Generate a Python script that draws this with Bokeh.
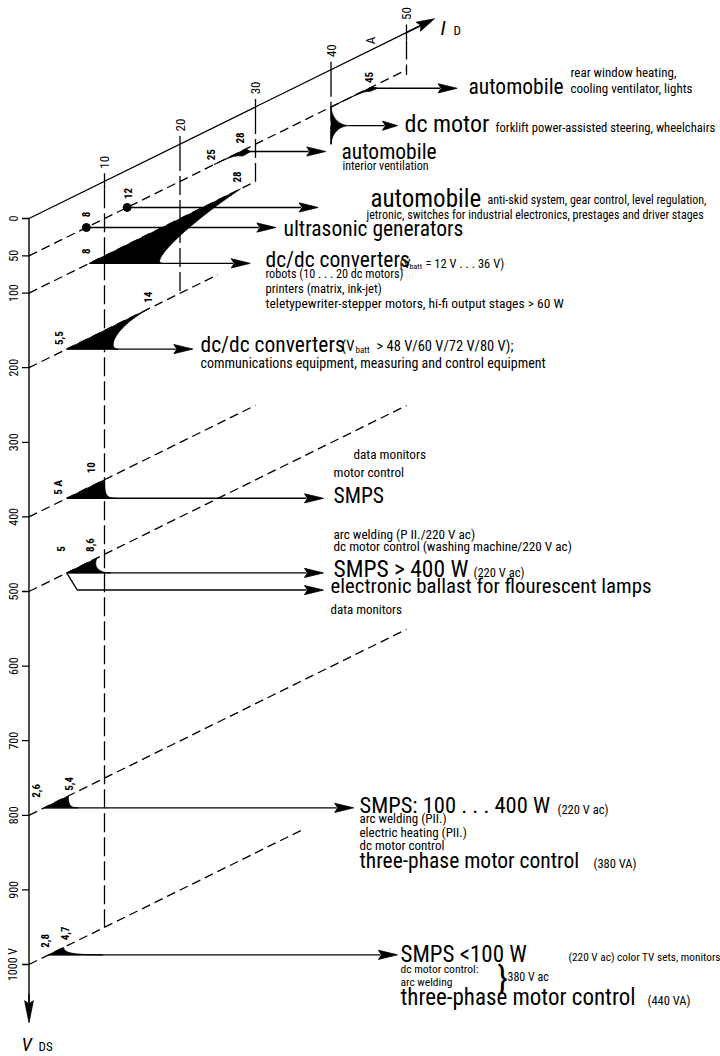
import numpy as np
from bokeh.plotting import figure
from bokeh.models import Range1d
from bokeh.core.properties import value
from bokeh.embed import file_html
from bokeh.resources import INLINE

# ---------------- chart values ----------------
V_TICKS = [0, 50, 100, 200, 300, 400, 500, 600, 700, 800, 900, 1000]
V_TICK_LABELS = ["0", "50", "100", "200", "300", "400", "500", "600", "700", "800", "900", "1000 V"]
ID_TICKS = [10, 20, 30, 40, 50]
ID_TICK_LABELS = ["10", "20", "30", "40", "50"]

# constant-V_DS guide lines (dashed, running in the I_D direction)
GUIDE_V = [50, 100, 200, 400, 500, 800, 1000]
GUIDE_V_ID_END = [50, 30, 25, 30, 50, 50, 36]
# constant-I_D projection lines (long dashes, running down in V_DS)
GUIDE_ID = [10, 20, 30, 40, 50]
GUIDE_ID_V_END = [1000, 200, 100, 100, 57]

# application areas whose arrow leaves at the level of the lower current
LOW_V = [100, 200, 400, 500, 800, 1000]
LOW_ID_FROM = [8, 5, 5, 5, 2, 2.6]
LOW_ID_TO = [28, 16, 10, 9, 5.2, 4.6]
LOW_LABEL_FROM = ["8", "5,5", "5 A", "5", "2,6", "2,8"]
LOW_LABEL_TO = ["28", "14", "10", "8,6", "5,4", "4,7"]

# application areas whose arrow leaves at the level of the upper current
HIGH_V = [50, 50]
HIGH_ID_FROM = [40, 24.5]
HIGH_ID_TO = [45.5, 28.7]
HIGH_LABEL_FROM = ["", "25"]
HIGH_LABEL_TO = ["45", "28"]

# single operating points
DOT_ID = [7.6, 13]
DOT_V = [50, 50]
DOT_LABEL = ["8", "12"]

# dc motor: one current, a range of voltages
MOTOR_ID = 40
MOTOR_V = [50, 100]

# electronic ballast branch (corner of the kinked line)
BALLAST_FROM = (5, 500)
BALLAST_CORNER = (6.4, 530)

# ---------------- layout (not data) ----------------
W, H = 720, 1056
SX = 7.55            # px per ampere (horizontal part of I_D direction)
SY = 0.746           # px per volt
RISE = 3.72          # px the I_D direction climbs per ampere
K = RISE / SY
ORIGIN = (28.5, 218.0)
X_START = -ORIGIN[0] / SX
Y_TOP = -ORIGIN[1] / SY

LOW_TIP = [29.3, 21.7, 39.0, 39.0, 43.0, 48.8]
LOW_SHAPE = [(73, 0.42, 0.58, 12), (51, 0.45, 0.5, 10), (49, 0.0, 0.75, 10),
             (44, 0.15, 0.7, 10), (34, 0.0, 0.7, 8), (54, 0.0, 0.75, 30)]
LOW_OFF_FROM = [(-3, -12), (-8, -11), (-8, -11), (-6, -24), (-8, -17), (-4, -14)]
LOW_OFF_TO = [(-3, -12), (-2, -11), (-14, -12), (-7, -13), (1, -12), (1, -14)]
HIGH_TIP = [56.7, 39.3]
HIGH_H = [5, 7]
HIGH_OFF_FROM = [(0, 0), (-3, -10)]
HIGH_OFF_TO = [(-4, -9), (-6, -11)]
DOT_TIP = [32.7, 38.3]
DOT_OFF = [(0, -13), (1, -14)]
MOTOR_TIP = 48.8
BALLAST_TIP = 39.0
FONT = "Roboto Condensed, DejaVu Sans Condensed, Liberation Sans"
BASE_SHIFT = 0.27    # em the renderer sets text below the requested baseline


def P(i, v):
    return i, v - K * i


def to_px(x, y):
    return np.array([(x - X_START) * SX, (y - Y_TOP) * SY])


def from_px(pts):
    pts = np.asarray(pts, dtype=float).reshape(-1, 2)
    return list(X_START + pts[:, 0] / SX), list(Y_TOP + pts[:, 1] / SY)


def ref(sx, sy):
    xs, ys = from_px([[sx, sy]])
    return xs[0], ys[0]


def cubic(p0, p1, p2, p3, n=28):
    t = np.linspace(0, 1, n)[:, None]
    return ((1 - t) ** 3) * p0 + 3 * ((1 - t) ** 2) * t * p1 + 3 * (1 - t) * t ** 2 * p2 + t ** 3 * p3


p = figure(width=W, height=H, x_range=Range1d(X_START, X_START + W / SX),
           y_range=Range1d(Y_TOP + H / SY, Y_TOP), output_backend="svg",
           toolbar_location=None, x_axis_type=None, y_axis_type=None, min_border=0)
p.outline_line_color = None
p.background_fill_color = "white"

heads_x, heads_y = [], []
shafts_x, shafts_y = [], []


def add_arrow(start_px, tip_px, length=19.0, half=4.6):
    s = np.asarray(start_px, float)
    t = np.asarray(tip_px, float)
    d = t - s
    u = d / np.hypot(*d)
    n = np.array([-u[1], u[0]])
    base = t - u * length
    xs, ys = from_px([s, base + u * 2])
    shafts_x.append(xs)
    shafts_y.append(ys)
    hx, hy = from_px([t, base + n * half, base + u * 3, base - n * half])
    heads_x.append(hx)
    heads_y.append(hy)


# ---------- V_DS axis ----------
ax_x, ax_y = zip(P(0, 0), P(0, 1060))
p.line(list(ax_x), list(ax_y), line_color="black", line_width=1.4)
add_arrow(to_px(*P(0, 1040)), to_px(*P(0, 1078)), length=22, half=4.4)
tick_px = 7.0
p.segment(x0=[0] * len(V_TICKS), y0=V_TICKS, x1=[-tick_px / SX] * len(V_TICKS), y1=V_TICKS,
          line_color="black", line_width=1.3)
p.text(x=[-16 / SX] * len(V_TICKS), y=V_TICKS, text=V_TICK_LABELS, angle=np.pi / 2,
       text_align="center", text_baseline="middle", text_font=value(FONT),
       text_font_size="12px", text_color="black")

# ---------- I_D axis ----------
id_end = 53.0
xs0, ys0 = zip(P(0, 0), P(id_end, 0))
p.line(list(xs0), list(ys0), line_color="black", line_width=1.3)
add_arrow(to_px(*P(id_end - 3, 0)), to_px(*P(53.7, 0)), length=18, half=5)
tick_half = 8.0 / SY
p.segment(x0=ID_TICKS, y0=[P(i, 0)[1] - tick_half for i in ID_TICKS],
          x1=ID_TICKS, y1=[P(i, 0)[1] + tick_half for i in ID_TICKS],
          line_color="black", line_width=1.3)
p.text(x=ID_TICKS, y=[P(i, 0)[1] - 19 / SY for i in ID_TICKS], text=ID_TICK_LABELS,
       angle=np.pi / 2, text_align="center", text_baseline="middle",
       text_font=value(FONT), text_font_size="13px", text_color="black")
ax, ay = ref(370, 40)
p.text(x=[ax], y=[ay], text=["A"], angle=np.pi / 2, text_align="center",
       text_baseline="middle", text_font=value(FONT), text_font_size="13px")

# ---------- guide lines ----------
p.multi_line(xs=[[0, e] for e in GUIDE_V_ID_END],
             ys=[[P(0, v)[1], P(e, v)[1]] for v, e in zip(GUIDE_V, GUIDE_V_ID_END)],
             line_color="black", line_width=1.3, line_dash="9 5")
p.multi_line(xs=[[i, i] for i in GUIDE_ID],
             ys=[[P(i, 0)[1] + tick_half, P(i, ve)[1]] for i, ve in zip(GUIDE_ID, GUIDE_ID_V_END)],
             line_color="black", line_width=1.3, line_dash="19 5")

# ---------- wedges ----------
patch_x, patch_y = [], []
num_x, num_y, num_t = [], [], []

for v, i0, i1, tip, shp, lf, lt, of, ot in zip(LOW_V, LOW_ID_FROM, LOW_ID_TO, LOW_TIP, LOW_SHAPE,
                                             LOW_LABEL_FROM, LOW_LABEL_TO, LOW_OFF_FROM, LOW_OFF_TO):
    A = to_px(*P(i0, v))
    B = to_px(*P(i1, v))
    notch, s1, s2, d = shp
    C = np.array([A[0] + notch, A[1]])
    P1 = np.array([B[0] + (A[0] - B[0]) * s1, B[1] + (A[1] - B[1]) * s2])
    P2 = np.array([C[0] - d, C[1]])
    curve = cubic(B, P1, P2, C)
    poly = np.vstack([A, curve])
    xs, ys = from_px(poly)
    patch_x.append(xs)
    patch_y.append(ys)
    tip_px = to_px(tip, P(i0, v)[1])
    add_arrow(A, tip_px)
    for lab, base, off in ((lf, A, of), (lt, B, ot)):
        lx, ly = from_px([base + np.array(off)])
        num_x.append(lx[0]); num_y.append(ly[0]); num_t.append(lab)

for v, i0, i1, tip, h, lf, lt, of, ot in zip(HIGH_V, HIGH_ID_FROM, HIGH_ID_TO, HIGH_TIP, HIGH_H,
                                           HIGH_LABEL_FROM, HIGH_LABEL_TO, HIGH_OFF_FROM, HIGH_OFF_TO):
    A = to_px(*P(i0, v))
    B = to_px(*P(i1, v))
    arrow_y = B[1] + h * 0.35
    C = np.array([B[0] + 5, arrow_y])
    D = np.array([B[0] - 3, B[1] + h])
    lower = cubic(D, np.array([D[0] - 6, D[1] - 0.5]), A + 0.6 * (B - A), A)
    poly = np.vstack([A, B, C, lower])
    xs, ys = from_px(poly)
    patch_x.append(xs)
    patch_y.append(ys)
    add_arrow(np.array([B[0], arrow_y]), np.array([to_px(tip, 0)[0], arrow_y]))
    for lab, base, off in ((lf, A, of), (lt, B, ot)):
        if lab:
            lx, ly = from_px([base + np.array(off)])
            num_x.append(lx[0]); num_y.append(ly[0]); num_t.append(lab)

# dc motor shape
T = to_px(*P(MOTOR_ID, MOTOR_V[0]))
U = to_px(*P(MOTOR_ID, MOTOR_V[1]))
M = np.array([T[0] + 19, (T[1] + U[1]) / 2])
top = cubic(T, T + np.array([1, 0.6 * (M[1] - T[1])]), M - np.array([11, 0]), M)
bot = cubic(M, M - np.array([11, 0]), U + np.array([1, -0.6 * (U[1] - M[1])]), U)
xs, ys = from_px(np.vstack([top, bot]))
patch_x.append(xs)
patch_y.append(ys)
add_arrow(M, np.array([to_px(MOTOR_TIP, 0)[0], M[1]]), length=15)

p.patches(xs=patch_x, ys=patch_y, fill_color="black", line_color="black", line_width=0.8)

# dots
for i, v, tip, lab, off in zip(DOT_ID, DOT_V, DOT_TIP, DOT_LABEL, DOT_OFF):
    D0 = to_px(*P(i, v))
    add_arrow(D0, np.array([to_px(tip, 0)[0], D0[1]]))
    lx, ly = from_px([D0 + np.array(off)])
    num_x.append(lx[0]); num_y.append(ly[0]); num_t.append(lab)
p.scatter(x=DOT_ID, y=[P(i, v)[1] for i, v in zip(DOT_ID, DOT_V)], size=8, color="black")

# electronic ballast branch
b0 = to_px(*P(*BALLAST_FROM))
b1 = to_px(*P(*BALLAST_CORNER))
bx, by = from_px([b0, b1])
p.line(bx, by, line_color="black", line_width=1.3)
add_arrow(b1, np.array([to_px(BALLAST_TIP, 0)[0], b1[1]]))

p.multi_line(xs=shafts_x, ys=shafts_y, line_color="black", line_width=1.4)
p.patches(xs=heads_x, ys=heads_y, fill_color="black", line_color="black", line_width=0.8)

p.text(x=num_x, y=num_y, text=num_t, angle=np.pi / 2, text_align="center", text_baseline="middle",
       text_font=value(FONT), text_font_size="11px", text_font_style="bold")

# ---------- application texts (text, left x, baseline y, font px) ----------
TEXTS = [
    ("automobile", 468, 92, 21.5), ("rear window heating,", 570, 76, 13),
    ("cooling ventilator, lights", 570, 92, 13),
    ("dc motor", 404, 130, 24), ("forklift power-assisted steering, wheelchairs", 495, 130, 12.6),
    ("automobile", 341, 157, 21.5), ("interior ventilation", 342, 169, 12),
    ("automobile", 370, 205, 25), ("anti-skid system, gear control, level regulation,", 487, 203, 12),
    ("jetronic, switches for industrial electronics, prestages and driver stages", 366, 218, 12),
    ("ultrasonic generators", 283, 234, 21.5),
    ("dc/dc converters", 265, 265, 21.5), ("(V", 399, 266, 12.5), ("= 12 V . . . 36 V)", 425, 266, 12.5),
    ("robots (10 . . . 20 dc motors)", 265, 277, 12.2), ("printers (matrix, ink-jet)", 265, 291, 12.6),
    ("teletypewriter-stepper motors, hi-fi output stages > 60 W", 265, 306, 13.5),
    ("dc/dc converters", 200, 350, 21.5), ("(V", 341, 350, 14.5), ("> 48 V/60 V/72 V/80 V);", 376, 350, 14.5),
    ("communications equipment, measuring and control equipment", 200, 366, 14),
    ("data monitors", 353, 458, 13.2), ("motor control", 333, 476, 13.2), ("SMPS", 333, 501, 21.5),
    ("arc welding (P II./220 V ac)", 333, 538, 13.2),
    ("dc motor control (washing machine/220 V ac)", 333, 550, 13.2),
    ("SMPS > 400 W", 333, 575, 23.5), ("(220 V ac)", 473, 575, 12.5),
    ("electronic ballast for flourescent lamps", 330, 591, 20.8), ("data monitors", 330, 613, 13),
    ("SMPS: 100 . . . 400 W", 359, 811, 22.5), ("(220 V ac)", 557, 812, 12.5),
    ("arc welding (PII.)", 359, 822, 13), ("electric heating (PII.)", 359, 836, 13),
    ("dc motor control", 359, 849, 13),
    ("three-phase motor control", 359, 866, 21.5), ("(380 VA)", 593, 866, 12.5),
    ("SMPS <100 W", 400, 960, 23), ("(220 V ac) color TV sets, monitors", 568, 960, 11.3),
    ("dc motor control:", 400, 972, 11.5), ("arc welding", 400, 985, 11.5),
    ("380 V ac", 507, 980, 12), ("}", 497, 987, 34),
    ("three-phase motor control", 400, 1003, 23), ("(440 VA)", 647, 1003, 12.5),
    ("batt", 409, 268, 8), ("batt", 355, 352, 9),
    ("D", 453, 34, 13), ("DS", 38, 1050, 13),
]
ITALIC = [("I", 440, 33, 21), ("V", 21, 1049, 19)]


def put(items, **kw):
    for size in sorted(set(it[3] for it in items)):
        xs, ys, ts = [], [], []
        for t, sx, sy, s in items:
            if s != size:
                continue
            x, y = ref(sx, sy - BASE_SHIFT * s)
            xs.append(x); ys.append(y); ts.append(t)
        p.text(x=xs, y=ys, text=ts, text_font=value(FONT), text_font_size=f"{size}px",
               text_baseline="alphabetic", text_align="left", text_color="black", **kw)


put(TEXTS)
put(ITALIC, text_font_style="italic")

open("out.html", "w").write(file_html(p, INLINE))
